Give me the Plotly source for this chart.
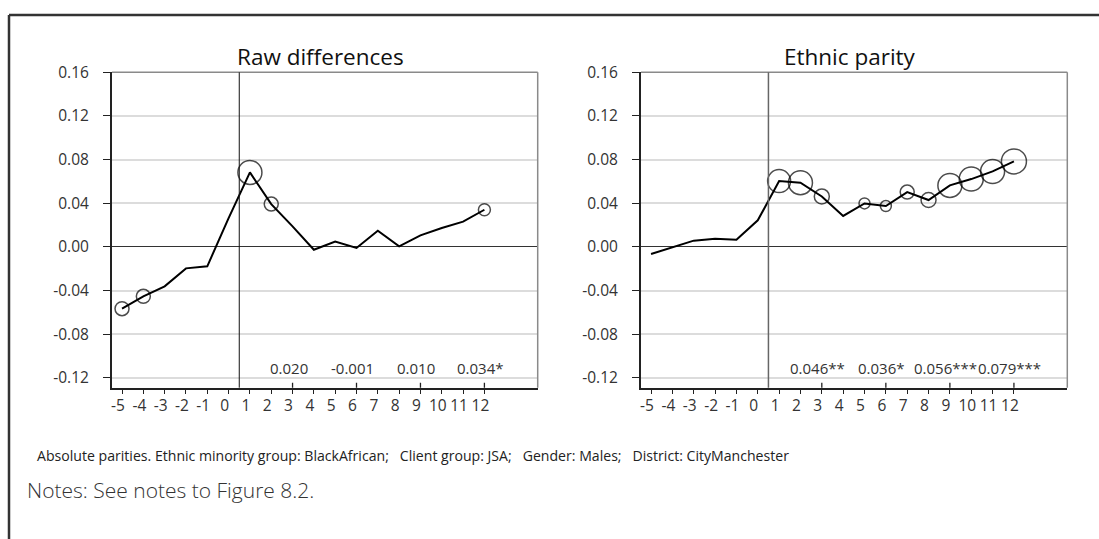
import plotly.graph_objects as go

# ---------------- data ----------------
periods = [-5, -4, -3, -2, -1, 0, 1, 2, 3, 4, 5, 6, 7, 8, 9, 10, 11, 12]
tick_labels = ["-5", "-4", "-3", "-2", "-1", "0", "1", "2", "3", "4", "5", "6",
               "7", "8", "9", "10", "11", "12"]

raw_diff = [-0.0565, -0.0452, -0.0360, -0.0196, -0.0177, 0.0265, 0.0683, 0.0393,
            0.0189, -0.0025, 0.0049, -0.0009, 0.0149, 0.0006, 0.0106, 0.0174,
            0.0232, 0.0341]
raw_circle = [14, 14, 0, 0, 0, 0, 24, 14, 0, 0, 0, 0, 0, 0, 0, 0, 0, 12]

parity = [-0.0064, -0.0005, 0.0058, 0.0076, 0.0067, 0.0244, 0.0604, 0.0589,
          0.0463, 0.0284, 0.0399, 0.0375, 0.0503, 0.0430, 0.0564, 0.0622,
          0.0692, 0.0784]
parity_circle = [0, 0, 0, 0, 0, 0, 23, 24, 15, 0, 11, 11, 14, 15, 24, 24, 24, 25]

stat_x = [3, 6, 9, 12]
raw_stats = ["0.020", "-0.001", "0.010", "0.034*"]
parity_stats = ["0.046**", "0.036*", "0.056***", "0.079***"]

y_ticks = [-0.12, -0.08, -0.04, 0.00, 0.04, 0.08, 0.12, 0.16]
y_tick_labels = ["-0.12", "-0.08", "-0.04", "0.00", "0.04", "0.08", "0.12", "0.16"]

panel_titles = ["Raw differences", "Ethnic parity"]
treatment_x = 0.5
caption = ("Absolute parities. Ethnic minority group: BlackAfrican;\u00a0\u00a0\u00a0Client group: JSA;"
           "\u00a0\u00a0\u00a0Gender: Males;\u00a0\u00a0\u00a0District: CityManchester")
notes = "Notes: See notes to Figure 8.2."

# ---------------- layout constants ----------------
W, H = 1099, 539
FONT = "Open Sans"
x_range = [-5.47, 14.5]
y_range = [-0.1289, 0.16]
y_dom = [1 - 387.7 / H, 1 - 72.3 / H]
x_doms = [[112 / W, 537.7 / W], [641 / W, 1067.3 / W]]

fig = go.Figure()

series = [(raw_diff, raw_circle), (parity, parity_circle)]
for i, (vals, circ) in enumerate(series):
    xa = "x" if i == 0 else "x2"
    ya = "y" if i == 0 else "y2"
    fig.add_trace(go.Scatter(x=periods, y=vals, mode="lines",
                             line=dict(color="black", width=2),
                             xaxis=xa, yaxis=ya, showlegend=False, hoverinfo="skip"))
    cx = [p for p, s in zip(periods, circ) if s > 0]
    cy = [v for v, s in zip(vals, circ) if s > 0]
    cs = [s for s in circ if s > 0]
    fig.add_trace(go.Scatter(x=cx, y=cy, mode="markers",
                             marker=dict(symbol="circle-open", size=cs, color="black",
                                         line=dict(width=1.5, color="black")),
                             xaxis=xa, yaxis=ya, showlegend=False, hoverinfo="skip"))

axis_common_x = dict(range=x_range, tickmode="array", tickvals=periods, ticktext=tick_labels,
                     ticks="outside", ticklen=4, tickwidth=1, tickcolor="#222",
                     showline=True, linecolor="#222", linewidth=2,
                     showgrid=False, zeroline=False, automargin=False,
                     tickfont=dict(family=FONT, size=15.5, color="#333"),
                     ticklabelshift=-4, ticklabelstandoff=-1, fixedrange=True)
axis_common_y = dict(range=y_range, domain=y_dom, tickmode="array", tickvals=y_ticks,
                     ticktext=y_tick_labels, ticks="outside", ticklen=7, tickwidth=1,
                     tickcolor="#222", showline=True, linecolor="#222", linewidth=2,
                     showgrid=True, gridcolor="#dcdcdc", gridwidth=1.5,
                     zeroline=True, zerolinecolor="#333", zerolinewidth=1.2,
                     automargin=False,
                     tickfont=dict(family=FONT, size=15.5, color="#333"),
                     ticklabelstandoff=11, fixedrange=True)

fig.update_layout(
    width=W, height=H, autosize=False,
    margin=dict(l=0, r=0, t=0, b=0, pad=0, autoexpand=False),
    paper_bgcolor="white", plot_bgcolor="white",
    font=dict(family=FONT, color="#222"),
    xaxis=dict(domain=x_doms[0], anchor="y", **axis_common_x),
    yaxis=dict(anchor="x", **axis_common_y),
    xaxis2=dict(domain=x_doms[1], anchor="y2", **axis_common_x),
    yaxis2=dict(anchor="x2", **axis_common_y),
)

shapes = []
annotations = []
for i in range(2):
    xr = "x" if i == 0 else "x2"
    yr = "y" if i == 0 else "y2"
    # gray top and right frame lines
    shapes.append(dict(type="line", xref=xr + " domain", yref=yr + " domain",
                       x0=0, x1=1, y0=1, y1=1, line=dict(color="#8a8a8a", width=1.5)))
    shapes.append(dict(type="line", xref=xr + " domain", yref=yr + " domain",
                       x0=1, x1=1, y0=0, y1=1, line=dict(color="#8a8a8a", width=1.5)))
    # treatment line
    shapes.append(dict(type="line", xref=xr, yref=yr + " domain",
                       x0=treatment_x, x1=treatment_x, y0=0, y1=1,
                       line=dict(color="#111" if i == 0 else "#666", width=1 if i == 0 else 1.5),
                       layer="above"))
    # crossing major ticks
    for sx in stat_x:
        shapes.append(dict(type="line", xref=xr, yref=yr, ysizemode="pixel",
                           yanchor=y_range[0], x0=sx, x1=sx, y0=-7, y1=5,
                           line=dict(color="#222", width=1.3)))
    # statistics
    texts = raw_stats if i == 0 else parity_stats
    for sx, t in zip(stat_x, texts):
        annotations.append(dict(x=sx, y=-0.111, xref=xr, yref=yr, text=t, showarrow=False,
                                xanchor="center", yanchor="middle", xshift=-4,
                                font=dict(family=FONT, size=15, color="#333")))
    # title
    annotations.append(dict(x=0.5, y=1, xref=xr + " domain", yref=yr + " domain",
                            text=panel_titles[i], showarrow=False, xanchor="center",
                            yanchor="bottom", yshift=-2, xshift=-4,
                            font=dict(family=FONT, size=22.5, color="#111")))

# outer border (top and left)
shapes.append(dict(type="line", xref="paper", yref="paper", x0=9 / W, x1=1.0,
                   y0=1 - 15 / H, y1=1 - 15 / H, line=dict(color="#333", width=2.5)))
shapes.append(dict(type="line", xref="paper", yref="paper", x0=9 / W, x1=9 / W,
                   y0=0, y1=1 - 15 / H, line=dict(color="#333", width=2.5)))

annotations.append(dict(x=35 / W, y=1 - 455 / H, xref="paper", yref="paper", text=caption,
                        showarrow=False, xanchor="left", yanchor="middle",
                        font=dict(family=FONT, size=14.1, color="#222")))
annotations.append(dict(x=25 / W, y=1 - 490 / H, xref="paper", yref="paper", text=notes,
                        showarrow=False, xanchor="left", yanchor="middle",
                        font=dict(family=FONT, size=21, color="#333", weight=300)))

fig.update_layout(shapes=shapes, annotations=annotations)
fig.write_html("out.html", config={"displayModeBar": False},
               post_script="document.body.style.margin='0';document.body.style.padding='0';")
